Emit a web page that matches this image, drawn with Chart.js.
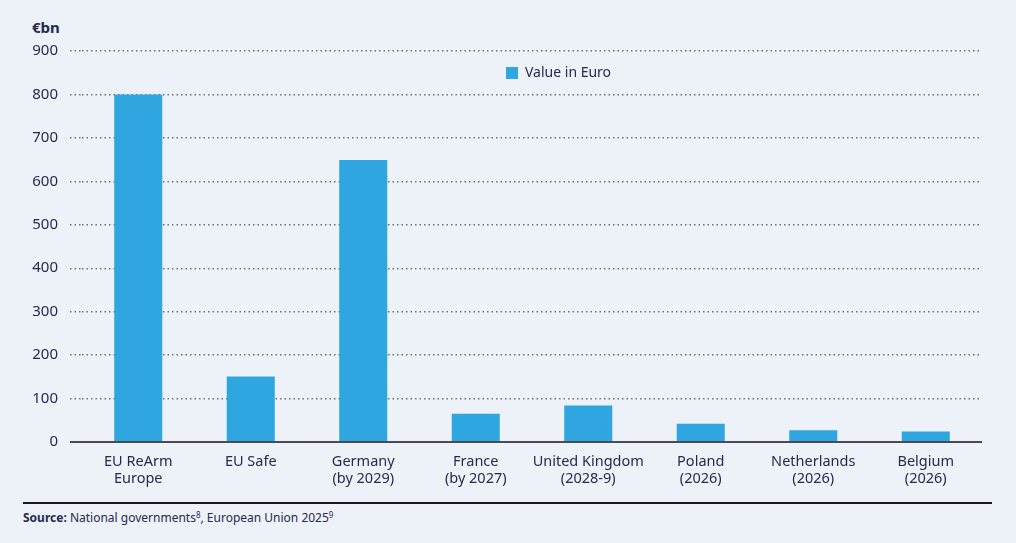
<!DOCTYPE html>
<html>
<head>
<meta charset="utf-8">
<script src="https://cdn.jsdelivr.net/npm/chart.js@4"></script>
<style>
  html, body { margin: 0; padding: 0; }
  body { width: 1016px; height: 543px; background: #edf1f8; position: relative; overflow: hidden;
         font-family: "Noto Sans", sans-serif; color: #272a4d; }
  #unit { position: absolute; left: 32px; top: 17px; font-weight: bold; font-size: 15px; }
  #wrap { position: absolute; left: 0; top: 0; width: 1016px; height: 500px; }
  #rule { position: absolute; left: 23px; top: 502px; width: 969px; height: 2px; background: #16171f; }
  #source { position: absolute; left: 23px; top: 509px; font-size: 12px; }
  #source sup { font-size: 8px; vertical-align: 4px; line-height: 0; }
</style>
</head>
<body>
<div id="unit">€bn</div>
<div id="wrap"><canvas id="chart"></canvas></div>
<div id="rule"></div>
<div id="source"><b>Source:</b> National governments<sup>8</sup>, European Union 2025<sup>9</sup></div>
<script>
    'use strict';

    // categories (two-line labels) and values in €bn
    var categories = [
        ['EU ReArm', 'Europe'],
        ['EU Safe'],
        ['Germany', '(by 2029)'],
        ['France', '(by 2027)'],
        ['United Kingdom', '(2028-9)'],
        ['Poland', '(2026)'],
        ['Netherlands', '(2026)'],
        ['Belgium', '(2026)']
    ];
    var seriesName = 'Value in Euro';
    var values = [800, 151, 649, 65, 84, 42, 27, 24];
    var yTicks = [0, 100, 200, 300, 400, 500, 600, 700, 800, 900];

    var textColor = '#272a4d';
    var barColor = '#2fa6df';
    var fontFamily = '"Noto Sans", sans-serif';

    // the legend sits inside the plot area, right of centre, under the 900 line
    var legendShiftX = 410;
    var legendShiftY = 52;
    var shiftLegend = {
        id: 'shiftLegend',
        afterLayout: function(chart) {
            chart.legend.left += legendShiftX;
            chart.legend.right += legendShiftX;
            chart.legend.top += legendShiftY;
            chart.legend.bottom += legendShiftY;
        }
    };

    function isZero(ctx) {
        return ctx.tick && ctx.tick.value === 0;
    }

    new Chart(document.getElementById('chart').getContext('2d'), {
        type: 'bar',
        data: {
            labels: categories,
            datasets: [{
                label: seriesName,
                data: values,
                backgroundColor: barColor,
                borderWidth: 0,
                categoryPercentage: 1,
                barPercentage: 0.427
            }]
        },
        plugins: [shiftLegend],
        options: {
            responsive: true,
            maintainAspectRatio: false,
            animation: false,
            layout: { padding: { top: 51, right: 34, left: 0, bottom: 0 } },
            plugins: {
                tooltip: { enabled: false },
                legend: {
                    position: 'chartArea',
                    align: 'start',
                    labels: {
                        boxWidth: 12,
                        boxHeight: 12,
                        padding: 14,
                        color: textColor,
                        font: { family: fontFamily, size: 14 }
                    }
                }
            },
            scales: {
                x: {
                    grid: { display: false, drawTicks: false },
                    border: { display: false },
                    ticks: {
                        padding: 12,
                        autoSkip: false,
                        color: textColor,
                        maxRotation: 0,
                        font: { family: fontFamily, size: 14.5, lineHeight: 1.15 }
                    },
                    afterFit: function(scale) { scale.height = 58; }
                },
                y: {
                    min: 0,
                    max: 900,
                    afterBuildTicks: function(scale) {
                        scale.ticks = yTicks.map(function(v) { return { value: v }; });
                    },
                    afterFit: function(scale) { scale.width = 82; },
                    border: {
                        display: false,
                        dash: function(ctx) { return isZero(ctx) ? [] : [1.5, 3]; }
                    },
                    grid: {
                        color: function(ctx) { return isZero(ctx) ? '#4a4b55' : '#6d7080'; },
                        lineWidth: function(ctx) { return isZero(ctx) ? 2 : 1.4; },
                        tickLength: 12,
                        tickColor: function(ctx) { return isZero(ctx) ? '#4a4b55' : '#6d7080'; },
                        tickWidth: function(ctx) { return isZero(ctx) ? 2 : 1.4; },
                        tickBorderDash: function(ctx) { return isZero(ctx) ? [] : [1.5, 3]; }
                    },
                    ticks: {
                        padding: 12,
                        color: textColor,
                        font: { family: fontFamily, size: 15 }
                    }
                }
            }
        }
    });
</script>
</body>
</html>
